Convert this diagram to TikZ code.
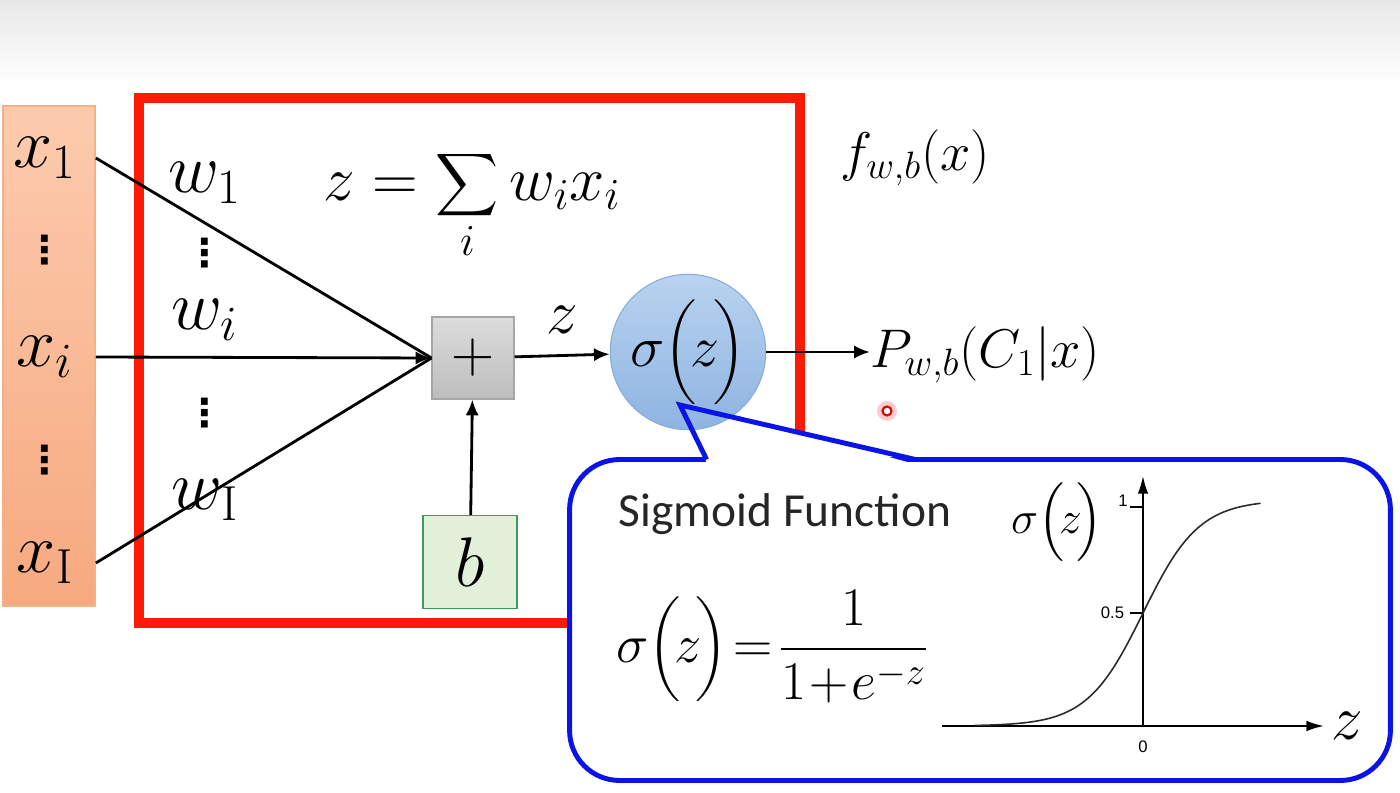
\documentclass[tikz,border=0pt]{standalone}
\usepackage{fix-cm}
\usepackage{amsmath}
\usepackage{fontspec}
\newfontfamily\calibriFont{Carlito}
\newfontfamily\arialFont{Liberation Sans}
\newfontfamily\dotFont{DejaVu Sans}
\definecolor{frameRed}{HTML}{FF1A05}
\definecolor{inTop}{HTML}{FCCBAE}
\definecolor{inBottom}{HTML}{F6A97F}
\definecolor{inBorder}{HTML}{F4B183}
\definecolor{sumTop}{HTML}{DCDCDC}
\definecolor{sumBottom}{HTML}{BDBDBD}
\definecolor{sumBorder}{HTML}{A6A6A6}
\definecolor{actTop}{HTML}{B9D3EF}
\definecolor{actBottom}{HTML}{8EB4E2}
\definecolor{actBorder}{HTML}{86ACDA}
\definecolor{biasFill}{HTML}{E2F0D9}
\definecolor{biasBorder}{HTML}{3C9A5F}
\definecolor{calloutBlue}{HTML}{0A14E6}
\definecolor{curveGray}{HTML}{2A2A2A}
\definecolor{titleGray}{HTML}{262626}
\usetikzlibrary{arrows.meta, positioning, calc}
\newcommand{\mathBig}{\fontsize{40}{46}\selectfont}
\newcommand{\mathMid}{\fontsize{31}{36}\selectfont}
\newcommand{\sigOf}{\sigma\Bigl(\mkern-2mu z\mkern-2mu\Bigr)}
\tikzset{
  inbox/.style={draw=inBorder, line width=1pt, top color=inTop, bottom color=inBottom,
    minimum width=1.84cm, minimum height=10cm, inner sep=0pt},
  sumbox/.style={draw=sumBorder, line width=0.6pt, top color=sumTop, bottom color=sumBottom,
    minimum size=1.64cm, inner sep=0pt},
  biasbox/.style={draw=biasBorder, line width=0.6pt, fill=biasFill,
    minimum width=1.88cm, minimum height=1.86cm, inner sep=0pt},
  actnode/.style={circle, draw=actBorder, line width=0.6pt, top color=actTop, bottom color=actBottom,
    minimum size=3cm, inner sep=0pt},
  frame/.style={draw=frameRed, line width=5.7pt},
  wire/.style={line width=1.6pt, black},
  arr/.style={wire, -{Latex[length=9pt, width=7.5pt]}},
  lbl/.style={inner sep=0pt, font=\mathBig},
  dotlbl/.style={inner sep=0pt, font=\dotFont\bfseries\fontsize{22}{22}\selectfont},
  callout/.style={draw=calloutBlue, line width=2.8pt, fill=white, rounded corners=1cm,
    minimum width=16.42cm, minimum height=6.42cm, inner sep=0pt},
  axis/.style={line width=1.1pt, black, -{Latex[length=10pt, width=6pt]}},
  axtick/.style={line width=0.8pt, black},
  ticklbl/.style={inner sep=0pt, font=\arialFont\fontsize{9.5}{11}\selectfont}
}

\begin{document}
\begin{tikzpicture}[x=0.02cm, y=-0.02cm]
  \useasboundingbox (0,0) rectangle (1400,793);
  \shade[top color=black!9, bottom color=white] (0,0) rectangle (1400,85);

  % the model f_{w,b}
  \draw[frame] (139,98) rectangle (800,623);

  % inputs
  \node[inbox] (inbox) at (49,356) {};
  \node[lbl] (x1) at (45,158) {$x_1$};
  \node[dotlbl] (xdots1) at (45,250) {⋮};
  \node[lbl] (xi) at (45,357) {$x_i$};
  \node[dotlbl] (xdots2) at (45,460) {⋮};
  \node[lbl] (xI) at (45,563) {$x_{\mathrm{I}}$};

  % weights
  \node[lbl] (w1) at (205,183) {$w_1$};
  \node[dotlbl] (wdots1) at (205,253) {⋮};
  \node[lbl] (wi) at (205,320) {$w_i$};
  \node[dotlbl] (wdots2) at (205,413) {⋮};
  \node[lbl] (wI) at (205,500) {$w_{\mathrm{I}}$};
  \node[lbl, font=\fontsize{36}{42}\selectfont] (zsum) at (472,205) {$z=\displaystyle\sum_i w_i x_i$};

  \node[sumbox] (plus) at (473,358) {\fontsize{34}{38}\selectfont$+$};
  \node[biasbox] (bias) at (470,562) {\mathBig$b$};
  \node[actnode] (act) at (688,352) {\fontsize{33}{38}\selectfont$\sigOf$};

  \draw[wire] (x1 -| inbox.east) -- (plus.west);
  \draw[wire] (xI -| inbox.east) -- (plus.west);
  \draw[arr] (xi -| inbox.east) -- (plus.west);
  \draw[arr] (bias) -- (plus);
  \draw[arr] (plus) -- node[above=12pt, inner sep=0pt, font=\fontsize{36}{40}\selectfont] (zlbl) {$z$} (act);

  % output
  \node[inner sep=0pt, font=\mathMid] (flbl) at (915,158) {$f_{w,b}(x)$};
  \node[anchor=west, inner sep=0pt, font=\mathMid] (plbl) at (870,355) {$P_{w,b}(C_1|x)$};
  \draw[arr] (act.east) -- (act.east -| plbl.west);

  % pointer mark
  \fill[red!20] (887,411) circle (10);
  \draw[red!85!black, line width=1.2pt, fill=white] (887,411) circle (4.5);

  % sigmoid callout
  \node[callout, outer sep=0pt] (sigbox) at (980,620) {};
  \coordinate (ptip) at (680,405);
  \coordinate (pl) at ($(sigbox.north west)+(137,0)$);
  \coordinate (pr) at ($(sigbox.north west)+(346,0)$);
  \fill[white] ($(ptip)!0.5!(pl)$) -- ($(ptip)!0.5!(pr)$) -- ($(pr)+(1,5)$) -- ($(pl)+(1,5)$) -- cycle;
  \draw[calloutBlue, line width=2.8pt] (pl) -- (ptip) -- (pr);

  \node[inner sep=0pt, text=titleGray, font=\calibriFont\fontsize{27}{32}\selectfont] (sigtitle) at (785,514) {Sigmoid Function};
  \node[inner sep=0pt, font=\fontsize{31}{36}\selectfont] (sigform) at (772,647)
    {$\sigOf\!=\!\dfrac{1}{1\!+\!e^{-z}}$};

  % sigmoid plot
  \coordinate (org) at (1143,726);
  \coordinate (ytop) at (1143,476);
  \coordinate (xleft) at (942,726);
  \coordinate (xright) at (1324,726);
  \draw[axis] (org) -- (ytop);
  \draw[axis] (xleft) -- (xright);
  \draw[curveGray, line width=0.9pt] plot[domain=-6:4.2, samples=90, smooth]
    ({1143+28*\x}, {726-226/(1+exp(-\x))});
  \draw[axtick] ($(org)+(0,-219)$) -- ++(-13,0) node[ticklbl, anchor=south east, xshift=-1pt] (tone) {1};
  \draw[axtick] ($(org)+(0,-113)$) -- ++(-13,0) node[ticklbl, anchor=east, xshift=-3pt] (thalf) {0.5};
  \node[ticklbl, below=8pt of org] (tzero) {0};
  \node[inner sep=0pt, font=\fontsize{26}{30}\selectfont] (ylbl) at (1057,522) {$\sigOf$};
  \node[inner sep=0pt, font=\fontsize{36}{40}\selectfont, right=4pt of xright] (xlbl) {$z$};
\end{tikzpicture}
\end{document}
